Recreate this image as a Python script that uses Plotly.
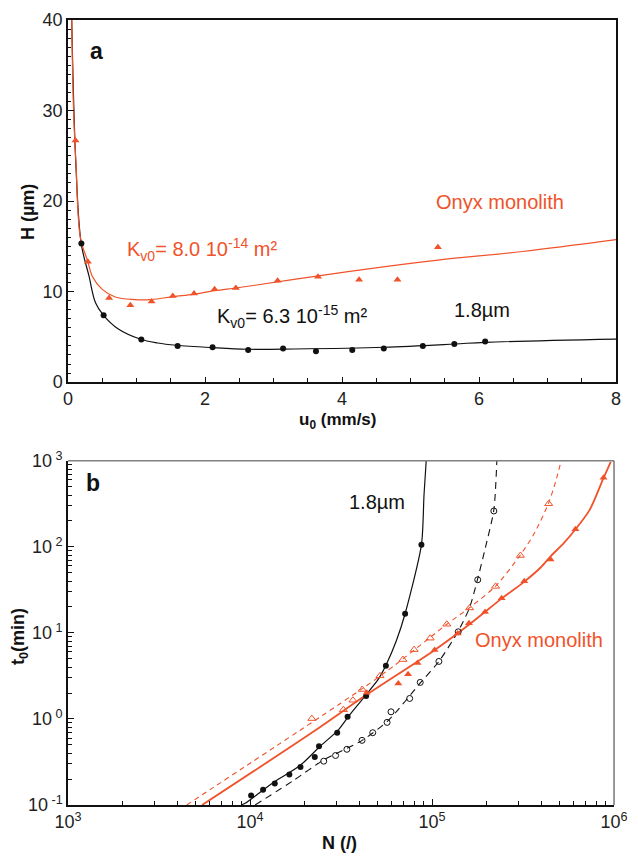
import plotly.graph_objects as go

RED = "#F0522A"
BLACK = "#111111"
FONT = "Liberation Sans, Arial, sans-serif"

# ---- panel a: plate height H (um) vs linear velocity u0 (mm/s) ----
u_18 = [0.195, 0.52, 1.07, 1.60, 2.11, 2.63, 3.14, 3.62, 4.15, 4.61, 5.18, 5.64, 6.09]
H_18 = [15.3, 7.4, 4.7, 4.0, 3.85, 3.55, 3.7, 3.4, 3.55, 3.7, 4.0, 4.2, 4.5]

u_onyx = [0.11, 0.29, 0.60, 0.91, 1.22, 1.53, 1.84, 2.14, 2.45, 3.06, 3.65, 4.25, 4.81, 5.40]
H_onyx = [26.7, 13.3, 9.3, 8.5, 8.9, 9.5, 9.8, 10.25, 10.4, 11.2, 11.65, 11.3, 11.3, 14.9]

# fitted plate-height curves
fit_u_18 = [0.054, 0.114, 0.193, 0.307, 0.40, 0.516, 0.735, 1.06, 1.31, 1.58, 2.10, 2.62,
            3.30, 4.61, 5.64, 6.09, 8.01]
fit_H_18 = [40, 24.2, 15.3, 11.7, 8.8, 7.4, 5.86, 4.73, 4.32, 4.07, 3.81, 3.63,
            3.66, 3.85, 4.21, 4.40, 4.76]
fit_u_onyx = [0.054, 0.078, 0.10, 0.117, 0.18, 0.29, 0.354, 0.50, 0.69, 0.97, 1.21, 1.54,
              1.83, 2.14, 2.45, 2.73, 3.30, 4.25, 5.40, 6.63, 8.01]
fit_H_onyx = [40, 30.8, 26.5, 24.2, 16.0, 13.3, 11.7, 10.25, 9.4, 9.12, 9.12, 9.45,
              9.7, 10.1, 10.4, 10.7, 11.35, 12.38, 13.48, 14.43, 15.75]

# ---- panel b: kinetic plot t0 (min) vs N ----
N_18 = [10140, 11800, 13680, 16450, 18940, 22690, 23940, 30130, 34370, 43450, 55800, 71150, 87450]
t_18 = [0.129, 0.150, 0.178, 0.226, 0.277, 0.362, 0.481, 0.692, 1.06, 1.85, 4.15, 16.7, 106]

N_18_open = [25410, 29520, 34060, 41240, 47230, 56640, 59520, 75370, 86140, 109100, 139300,
             178300, 218600]
t_18_open = [0.323, 0.376, 0.444, 0.564, 0.692, 0.912, 1.21, 1.73, 2.66, 4.66, 10.3, 41.4, 261]

N_onyx = [43820, 65270, 73850, 83240, 103300, 138400, 159600, 195500, 241200, 321300,
          448100, 613800, 875400]
t_onyx = [2.01, 2.59, 3.30, 4.48, 6.32, 9.82, 12.9, 17.5, 25.3, 39.7, 71.1, 160, 636]

N_onyx_open = [21860, 32600, 36780, 41380, 51760, 69220, 79790, 97780, 120600, 160900,
               223400, 306000, 437600]
t_onyx_open = [1.01, 1.28, 1.65, 2.20, 3.17, 4.90, 6.39, 8.68, 12.6, 19.5, 34.7, 79.3, 317]

# kinetic-plot curves
kp_N_18 = [8930, 9420, 13610, 18920, 24270, 30410, 35080, 43050, 50820, 56230, 63680, 71120,
           87500, 90360, 92900]
kp_t_18 = [0.100, 0.105, 0.186, 0.290, 0.481, 0.736, 1.10, 1.87, 2.92, 4.35, 8.09, 16.7,
           106, 401, 1000]
kp_N_18_open = [10670, 17470, 25230, 41300, 57540, 86700, 109100, 139000, 160700, 177800,
                197200, 218600, 227500]
kp_t_18_open = [0.1, 0.195, 0.331, 0.564, 0.962, 2.66, 4.66, 10.4, 19.6, 41.8,
                101, 269, 1112]
kp_N_onyx = [5455, 22340, 43050, 102100, 160700, 242100, 320600, 396500, 448400, 529600,
             611100, 734800, 873800, 959400]
kp_t_onyx = [0.1, 0.714, 1.87, 6.20, 12.6, 25.2, 39.2, 57.9, 77.6, 110.6,
             158, 269, 624, 973]
kp_N_onyx_open = [4490, 41400, 62950, 95900, 120500, 160700, 223400, 304100, 365600, 436400,
                  477600, 518800]
kp_t_onyx_open = [0.1, 2.25, 4.27, 8.59, 12.6, 19.6, 34.9, 79.1, 144.5, 320, 571, 1112]

fig = go.Figure()

# panel a
fig.add_trace(go.Scatter(x=fit_u_18, y=fit_H_18, mode="lines", xaxis="x", yaxis="y",
                         line=dict(color=BLACK, width=1.2, shape="spline"), showlegend=False))
fig.add_trace(go.Scatter(x=fit_u_onyx, y=fit_H_onyx, mode="lines", xaxis="x", yaxis="y",
                         line=dict(color=RED, width=1.2, shape="spline"), showlegend=False))
fig.add_trace(go.Scatter(x=u_18, y=H_18, mode="markers", xaxis="x", yaxis="y",
                         marker=dict(symbol="circle", size=6, color=BLACK), showlegend=False))
fig.add_trace(go.Scatter(x=u_onyx, y=H_onyx, mode="markers", xaxis="x", yaxis="y",
                         marker=dict(symbol="triangle-up", size=7, color=RED), showlegend=False))

# panel b
fig.add_trace(go.Scatter(x=kp_N_18, y=kp_t_18, mode="lines", xaxis="x2", yaxis="y2",
                         line=dict(color=BLACK, width=1.2, shape="spline", smoothing=0.7),
                         showlegend=False))
fig.add_trace(go.Scatter(x=kp_N_18_open, y=kp_t_18_open, mode="lines", xaxis="x2", yaxis="y2",
                         line=dict(color=BLACK, width=1.1, shape="spline", smoothing=0.7,
                                   dash="7px,5px"),
                         showlegend=False))
fig.add_trace(go.Scatter(x=kp_N_onyx, y=kp_t_onyx, mode="lines", xaxis="x2", yaxis="y2",
                         line=dict(color=RED, width=1.8, shape="spline", smoothing=0.8),
                         showlegend=False))
fig.add_trace(go.Scatter(x=kp_N_onyx_open, y=kp_t_onyx_open, mode="lines", xaxis="x2", yaxis="y2",
                         line=dict(color=RED, width=1.1, shape="spline", smoothing=0.7,
                                   dash="5px,4px"),
                         showlegend=False))
fig.add_trace(go.Scatter(x=N_18, y=t_18, mode="markers", xaxis="x2", yaxis="y2",
                         marker=dict(symbol="circle", size=6, color=BLACK), showlegend=False))
fig.add_trace(go.Scatter(x=N_18_open, y=t_18_open, mode="markers", xaxis="x2", yaxis="y2",
                         marker=dict(symbol="circle-open", size=6, color=BLACK,
                                     line=dict(width=1)), showlegend=False))
fig.add_trace(go.Scatter(x=N_onyx, y=t_onyx, mode="markers", xaxis="x2", yaxis="y2",
                         marker=dict(symbol="triangle-up", size=7, color=RED), showlegend=False))
fig.add_trace(go.Scatter(x=N_onyx_open, y=t_onyx_open, mode="markers", xaxis="x2", yaxis="y2",
                         marker=dict(symbol="triangle-up-open", size=7, color=RED,
                                     line=dict(width=1)), showlegend=False))

tickfont = dict(family=FONT, size=18, color="#222222")

x_ticks_a = [0, 2, 4, 6, 8]
y_ticks_a = [0, 10, 20, 30, 40]
dec_x = [1e3, 1e4, 1e5, 1e6]
dec_x_txt = ["10<sup>3</sup>", "10<sup>4</sup>", "10<sup>5</sup>", "10<sup>6</sup>"]
dec_y = [0.1, 1, 10, 100, 1000]
dec_y_txt = ["10<sup> -1</sup>", "10<sup> 0</sup>", "10<sup> 1</sup>", "10<sup> 2</sup>", "10<sup> 3</sup>"]

fig.update_layout(
    width=638, height=860,
    margin=dict(l=68, r=8, t=16, b=55),
    paper_bgcolor="white", plot_bgcolor="white",
    font=dict(family=FONT, color=BLACK),
    xaxis=dict(domain=[0, 1], range=[0, 8], anchor="y",
               tickvals=x_ticks_a, ticks="inside", ticklen=5, tickwidth=1,
               tickcolor=BLACK, tickfont=tickfont, showgrid=False, zeroline=False,
               showline=True, linecolor=BLACK, linewidth=1.5, mirror=True,
               minor=dict(ticks="inside", dtick=0.5, ticklen=4, tickcolor=BLACK, showgrid=False)),
    yaxis=dict(domain=[0.5387, 1], range=[0, 40], anchor="x",
               tickvals=y_ticks_a, ticks="inside", ticklen=6, tickwidth=1,
               tickcolor=BLACK, tickfont=tickfont, showgrid=False, zeroline=False,
               showline=True, linecolor=BLACK, linewidth=1.5, mirror=True,
               minor=dict(ticks="inside", dtick=1, ticklen=3, tickcolor=BLACK, showgrid=False)),
    xaxis2=dict(domain=[0, 0.9964], type="log", range=[3, 6], anchor="y2",
                tickvals=dec_x, ticktext=dec_x_txt, ticks="inside", ticklen=6, tickwidth=1,
                tickcolor=BLACK, tickfont=tickfont, showgrid=False, zeroline=False,
                showline=True, linecolor=BLACK, linewidth=1.5, mirror=False,
                minor=dict(ticks="inside", dtick="D1", ticklen=4, tickcolor=BLACK, showgrid=False)),
    yaxis2=dict(domain=[0, 0.4385], type="log", range=[-1, 3], anchor="x2",
                tickvals=dec_y, ticktext=dec_y_txt, ticks="inside", ticklen=6, tickwidth=1,
                tickcolor=BLACK, tickfont=tickfont, showgrid=False, zeroline=False,
                showline=True, linecolor=BLACK, linewidth=1.5, mirror=False,
                minor=dict(ticks="inside", dtick="D1", ticklen=4, tickcolor=BLACK, showgrid=False)),
)

# panel b frame (top and right edges)
fig.add_shape(type="line", xref="x2 domain", yref="y2 domain", x0=0, x1=1, y0=1, y1=1,
              line=dict(color="#808080", width=1.5))
fig.add_shape(type="line", xref="x2 domain", yref="y2 domain", x0=1, x1=1, y0=0, y1=1,
              line=dict(color="#555555", width=1.2))

ann = []
# panel a labels
ann.append(dict(text="<b>a</b>", x=0.41, y=36.6, xref="x", yref="y",
                font=dict(size=23, color=BLACK)))
ann.append(dict(text="Onyx monolith", x=6.30, y=19.9, xref="x", yref="y",
                font=dict(size=20, color=RED)))
ann.append(dict(text="K<sub>v0</sub>= 8.0 10<sup>-14</sup> m²", x=0.83, y=14.6, xref="x", yref="y",
                xanchor="left", font=dict(size=20, color=RED)))
ann.append(dict(text="K<sub>v0</sub>= 6.3 10<sup>-15</sup> m²", x=2.15, y=7.25, xref="x", yref="y",
                xanchor="left", font=dict(size=20, color=BLACK)))
ann.append(dict(text="1.8µm", x=6.04, y=7.95, xref="x", yref="y",
                font=dict(size=20, color=BLACK)))
ann.append(dict(text="<b>H (µm)</b>", x=27, y=209, xref="paper", yref="paper",
                textangle=-90, font=dict(size=18, color=BLACK)))
ann.append(dict(text="<b>u<sub>0</sub> (mm/s)</b>", x=344, y=419,
                font=dict(size=17, color=BLACK)))

# panel b labels
ann.append(dict(text="<b>b</b>", x=3.138, y=2.746, xref="x2", yref="y2",
                font=dict(size=23, color=BLACK)))
ann.append(dict(text="1.8µm", x=4.70, y=2.526, xref="x2", yref="y2",
                font=dict(size=20, color=BLACK)))
ann.append(dict(text="Onyx monolith", x=5.586, y=0.919, xref="x2", yref="y2",
                font=dict(size=20, color=RED)))
ann.append(dict(text="<b>t<sub>0</sub>(min)</b>", x=19, y=636, textangle=-90,
                font=dict(size=18, color=BLACK)))
ann.append(dict(text="<b>N (/)</b>", x=346, y=843,
                font=dict(size=18, color=BLACK)))

# convert pixel-placed labels to paper coordinates; centre every label on its point
plot_w = 638 - 68 - 8
plot_h = 860 - 16 - 55
for a in ann:
    a["showarrow"] = False
    a.setdefault("xanchor", "center")
    a["yanchor"] = "middle"
    if a.get("xref") is None or a["xref"] == "paper":
        a["xref"] = "paper"
        a["yref"] = "paper"
        a["x"] = (a["x"] - 68) / plot_w
        a["y"] = (860 - 55 - a["y"]) / plot_h
fig.update_layout(annotations=ann)

fig.write_html("out.html")
